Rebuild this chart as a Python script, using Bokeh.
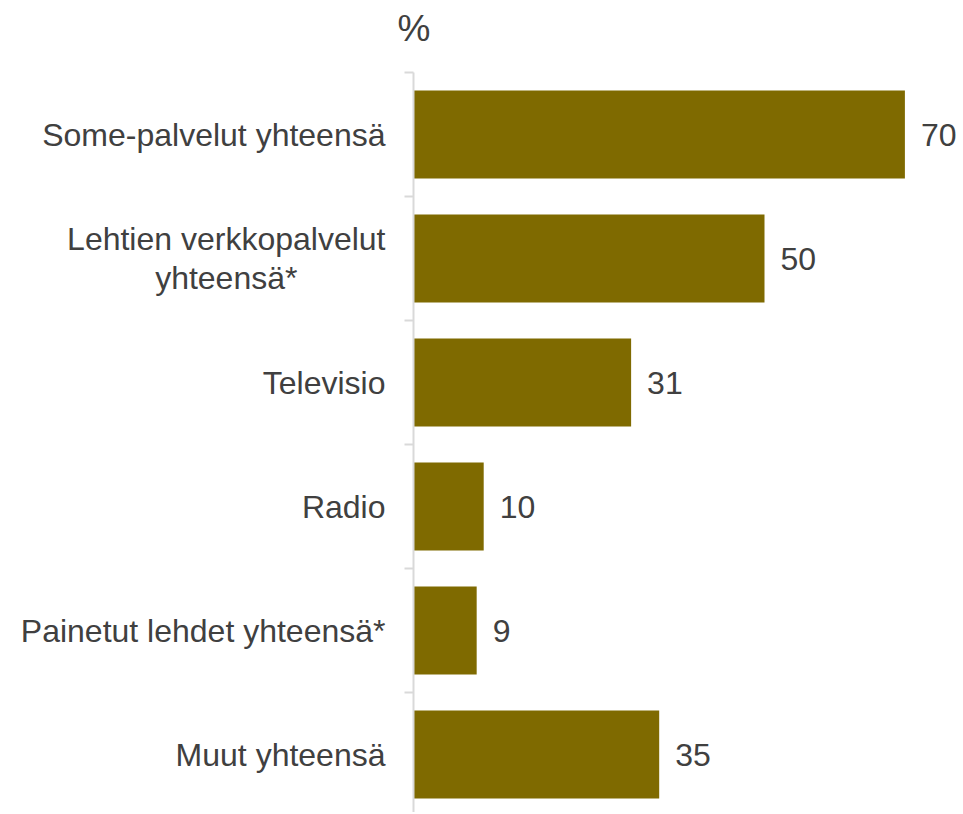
from bokeh.plotting import figure
from bokeh.models import ColumnDataSource, FixedTicker, Range1d, LinearAxis
from bokeh.core.properties import value
from bokeh.embed import file_html
from bokeh.resources import INLINE

# ---- data ----
categories = [
    "Some-palvelut yhteensä",
    "Lehtien verkkopalvelut\nyhteensä*",
    "Televisio",
    "Radio",
    "Painetut lehdet yhteensä*",
    "Muut yhteensä",
]
values = [70, 50, 31, 10, 9, 35]
value_labels = ["70", "50", "31", "10", "9", "35"]
unit_label = "%"

FONT = "Liberation Sans"
TXT = "#404040"
BAR = "#7f6a00"
AX = "#d9d9d9"

W, H = 960, 812
AXIS_X_PX = 413      # screen position of the value axis origin
TOP_PX = 72          # screen position of the first category boundary
PX_PER_UNIT = 7.02
PX_PER_CAT = 124

n = len(categories)
idx = list(range(n))
src = ColumnDataSource(dict(y=idx, v=values, t=value_labels,
                            cat=categories, zero=[0] * n))

x_start = -AXIS_X_PX / PX_PER_UNIT
x_end = (W - AXIS_X_PX) / PX_PER_UNIT
y_top = -0.5 - TOP_PX / PX_PER_CAT
y_bottom = y_top + H / PX_PER_CAT

p = figure(width=W, height=H, output_backend="svg", toolbar_location=None,
           x_range=Range1d(x_start, x_end), y_range=Range1d(y_bottom, y_top),
           min_border_left=0, min_border_right=0, min_border_top=0,
           min_border_bottom=0)
p.outline_line_color = None
p.grid.visible = False
p.axis.visible = False
p.background_fill_color = "white"
p.border_fill_color = "white"

p.hbar(y="y", right="v", left=0, height=0.71, source=src,
       fill_color=BAR, line_color=None)

# category axis line with boundary ticks, anchored at x = 0
ya = LinearAxis(fixed_location=0, bounds=(-0.5, n - 0.5),
                ticker=FixedTicker(ticks=[], minor_ticks=[i - 0.5 for i in range(n + 1)]))
ya.major_tick_out = 0
ya.major_tick_in = 0
ya.minor_tick_out = 9
ya.minor_tick_in = 0
ya.axis_line_color = AX
ya.axis_line_width = 2
ya.minor_tick_line_color = AX
ya.minor_tick_line_width = 2
ya.major_label_text_color = None
p.add_layout(ya, "left")

# category labels (multi-line centred, block right-aligned to the axis)
p.text(x="zero", y="y", text="cat", source=src, x_offset=-28,
       anchor=value("center_right"), text_align="center", text_baseline="middle",
       text_font=value(FONT), text_font_size="32px", text_color=TXT,
       text_line_height=1.1)

# value labels
p.text(x="v", y="y", text="t", source=src, x_offset=16,
       text_align="left", text_baseline="middle",
       text_font=value(FONT), text_font_size="32px", text_color=TXT)

# unit label above the axis
p.text(x=[0], y=[-0.5], text=[unit_label], x_offset=-16, y_offset=-44,
       text_align="left", text_baseline="middle",
       text_font=value(FONT), text_font_size="37px", text_color=TXT)

open("out.html", "w").write(file_html(p, INLINE))
